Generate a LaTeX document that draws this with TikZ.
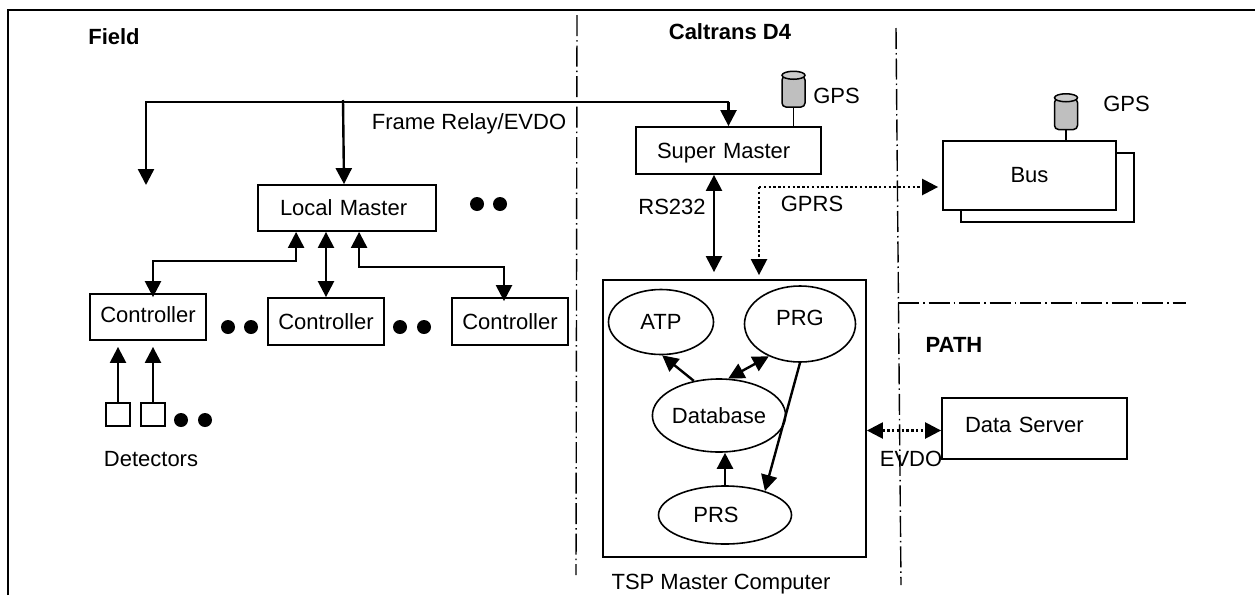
\documentclass[tikz,border=0pt]{standalone}
\usepackage{fontspec}
\setmainfont{Liberation Sans}
\usetikzlibrary{shapes,shapes.geometric,arrows.meta,calc}

\tikzset{
  lbl/.style={inner sep=0pt,font=\fontsize{22}{26}\selectfont},
  head/.style={lbl,font=\fontsize{22}{26}\selectfont\bfseries},
  box/.style={lbl,draw,line width=1.8pt,fill=white,align=center},
  padbox/.style={box,align=left},
  oval/.style={lbl,draw,line width=1.6pt,ellipse},
  dot/.style={circle,fill=black,inner sep=0pt,minimum size=14pt},
  antenna/.style={draw,line width=1.5pt,fill=black!25,rounded corners=4pt,
    inner sep=0pt,minimum width=23pt,minimum height=31pt},
  antennacap/.style={draw,line width=1.5pt,fill=black!20,ellipse,
    inner sep=0pt,minimum width=23pt,minimum height=8pt},
  link/.style={line width=2.4pt},
  thinlink/.style={line width=1.5pt},
  dotlink/.style={line width=2.4pt,dash pattern=on 2.4pt off 2.4pt},
  divider/.style={line width=1.4pt,dash pattern=on 21pt off 4pt on 1.5pt off 4pt}
}

\begin{document}
\begin{tikzpicture}[x=1pt,y=-1pt,>={Triangle[length=16pt,width=16pt]}]
    \useasboundingbox (0,0) rectangle (1255,595);
    \coordinate (cornertl) at (8,10);
    \coordinate (cornerr)  at (1255,10);
    \coordinate (cornerb)  at (8,595);
    \draw[line width=2pt] (cornerb) -- (cornertl) -- (cornerr);

    \coordinate (divatop) at (577,15);
    \coordinate (divabot) at (576,575);
    \coordinate (divbtop) at (896,28);
    \coordinate (divbbot) at (901,585);
    \coordinate (divcleft) at (898,303);
    \coordinate (divcright) at (1186,303);
    \draw[divider] (divatop) -- (divabot);
    \draw[divider] (divbtop) -- (divbbot);
    \draw[divider] (divcleft) -- (divcright);

    \node [head] (field)    at (114,37)  {Field};
    \node [head] (caltrans) at (730,32)  {Caltrans D4};
    \node [head] (path)     at (954,345) {PATH};

    \node [padbox,text width=134pt,minimum height=46pt,inner xsep=22pt] (lm) at (347,208) {Local Master};
    \node [padbox,text width=143pt,minimum height=47pt,inner xsep=21pt,text depth=0pt] (sm) at (728.5,150.5) {Super Master};
    \node [box,minimum width=116pt,minimum height=46pt] (ctrla) at (148,317) {\raisebox{4pt}{Controller}};
    \node [box,minimum width=116pt,minimum height=47pt] (ctrlb) at (326,321.5) {Controller};
    \node [box,minimum width=116pt,minimum height=47pt] (ctrlc) at (510,321.5) {Controller};

    \node [box,minimum width=24pt,minimum height=23pt] (deta) at (118,414.5) {};
    \node [box,minimum width=24pt,minimum height=23pt] (detb) at (153,414.5) {};
    \node [lbl] (detectors) at (151,459) {Detectors};

    \node [dot] (dota) at (477,204) {};
    \node [dot] (dotb) at (500,204) {};
    \node [dot] (dotc) at (228,327) {};
    \node [dot] (dotd) at (251,327) {};
    \node [dot] (dote) at (400,327) {};
    \node [dot] (dotf) at (424,327) {};
    \node [dot] (dotg) at (181,420) {};
    \node [dot] (doth) at (205,420) {};

    \node [box,minimum width=173pt,minimum height=69pt] (busb) at (1047.5,187.5) {};
    \node [box,minimum width=173pt,minimum height=69pt] (bus)  at (1029.5,175.5) {Bus};
    \node [antenna] (gpsa) at (793.5,91.5) {};
    \node [antennacap] (gpsacap) at (gpsa.north) {};
    \node [antenna] (gpsb) at (1066,114) {};
    \node [antennacap] (gpsbcap) at (gpsb.north) {};
    \node [lbl] (gpsalbl) at (836.5,96)  {GPS};
    \node [lbl] (gpsblbl) at (1126.5,104) {GPS};
    \draw[thinlink] (gpsa.south) -- (gpsa.south |- sm.north);
    \draw[thinlink] (gpsb.south) -- (gpsb.south |- bus.north);

    \node [draw,line width=1.8pt,minimum width=263pt,minimum height=277pt] (tsp) at (734.5,418.5) {};
    \node [lbl] (tsplbl) at (721,584) {TSP Master Computer};
    \node [oval,minimum width=105pt,minimum height=65pt] (atp) at (661,322) {ATP};
    \node [oval,minimum width=111pt,minimum height=76pt] (prg) at (800,324) {\raisebox{13pt}{PRG}};
    \node [oval,minimum width=114pt,minimum height=73pt] (db)  at (719,415.5) {Database};
    \node [oval,minimum width=133pt,minimum height=58pt] (prs) at (725,515) {\hspace*{-18pt}PRS};

    \node [padbox,text width=139pt,minimum height=61pt,inner xsep=23pt] (server) at (1034.5,428.5) {\raisebox{7pt}{Data Server}};

    \node [lbl] (relaylbl) at (469,123.5) {Frame Relay/EVDO};
    \node [lbl] (rslbl)    at (672,207) {RS232};
    \node [lbl] (gprslbl)  at (812,204) {GPRS};
    \node [lbl] (evdolbl)  at (911,459) {EVDO};

    \coordinate (fieldend) at (146,185);
    \coordinate (relay)    at (344,102);
    \coordinate (relaytop) at (343,100);
    \draw[link,->] (relay -| sm.north) -- (sm.north);
    \draw[link,->] (relay -| sm.north) -| (fieldend);
    \draw[link,->] (relaytop) -- (relay |- lm.north);

    \coordinate (ctrlatop) at ([shift={(5pt,-4pt)}]ctrla.north);
    \coordinate (ctrlctop) at ([shift={(-6pt,-4pt)}]ctrlc.north);
    \draw[link,<->] ([xshift=39pt]lm.south west) |- ([yshift=36pt]ctrlatop) -- (ctrlatop);
    \draw[link,<->] (lm.south -| ctrlb.north) -- (ctrlb.north);
    \draw[link,<->] ([xshift=102pt]lm.south west) |- ([yshift=34pt]ctrlctop) -- (ctrlctop);

    \draw[link,->] (deta.north) -- ([yshift=-6pt]deta.north |- ctrla.south);
    \draw[link,->] (detb.north) -- ([yshift=-6pt]detb.north |- ctrla.south);

    \draw[link,<->] ([xshift=-14.5pt]sm.south) -- ([yshift=7pt,xshift=-14.5pt]sm.south |- tsp.north);
    \coordinate (gprscorner) at (759,187);
    \draw[dotlink,-{Triangle[length=16pt,width=16pt]}] (gprscorner) -- ([yshift=4pt]gprscorner |- tsp.north);
    \draw[dotlink,-{Triangle[length=16pt,width=16pt]}] (gprscorner) -- ([xshift=-4pt]gprscorner -| bus.west);

    \draw[link,->] (db.126) -- (atp.272);
    \draw[link,<->] (prg.226) -- (db.76);
    \draw[link,->] (prs.north) -- (db.south -| prs.north);
    \draw[link,->] (prg.270) -- (prs.31);
    \draw[dotlink,{Triangle[length=16pt,width=16pt]}-{Triangle[length=16pt,width=16pt]}] ([yshift=-12pt]tsp.east) -- ([yshift=-12pt]tsp.east -| server.west);
\end{tikzpicture}
\end{document}
